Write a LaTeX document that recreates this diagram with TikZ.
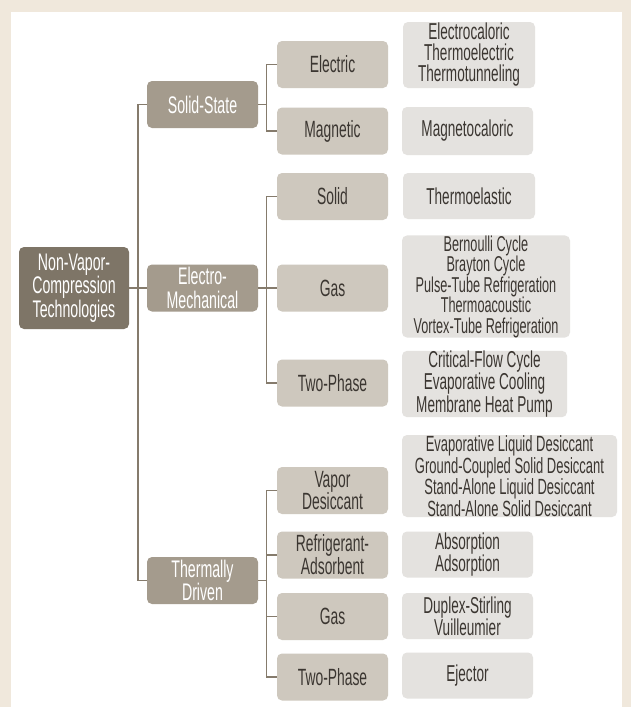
\documentclass[tikz,border=0pt]{standalone}
\usepackage{fontspec}
\setmainfont{Liberation Sans}[FakeStretch=0.59]
\definecolor{bgcol}{HTML}{F0E8DC}
\definecolor{rootcol}{HTML}{7E7567}
\definecolor{maincol}{HTML}{A49B8D}
\definecolor{subcol}{HTML}{CEC8BE}
\definecolor{listcol}{HTML}{E4E2DF}
\definecolor{linecol}{HTML}{857B6C}
\definecolor{txtcol}{HTML}{3B3631}

\begin{document}
\begin{tikzpicture}[x=1pt,y=-1pt,
	box/.style={rounded corners=5pt,inner sep=0,outer sep=0,minimum width=111pt,minimum height=47pt,align=center,font=\fontsize{24}{23.5}\selectfont},
	rootbox/.style={box,fill=rootcol,text=white,minimum width=110pt,minimum height=82pt},
	mainbox/.style={box,fill=maincol,text=white},
	subbox/.style={box,fill=subcol,text=txtcol,font=\fontsize{23.5}{21}\selectfont},
	listbox/.style={box,fill=listcol,text=txtcol,anchor=west,font=\fontsize{23}{21}\selectfont},
	link/.style={draw=linecol,line width=1.6pt}]
	\useasboundingbox[fill=bgcol] (0,0) rectangle (631,707);
	\fill[white] (11,12) rectangle (622,707);
	\node[rootbox] (0) at (74,288) {Non-Vapor-\\Compression\\Technologies};
	\node[mainbox] (1) at (202.5,104.5) {Solid-State};
	\node[mainbox] (2) at (202.5,288) {Electro-\\Mechanical};
	\node[mainbox] (3) at (202.5,580.5) {Thermally\\Driven};
	\node[subbox] (11) at (332.5,64.5) {Electric};
	\node[subbox] (12) at (332.5,131) {Magnetic};
	\node[subbox] (21) at (332.5,196.5) {Solid};
	\node[subbox] (22) at (332.5,288) {Gas};
	\node[subbox] (23) at (332.5,383) {Two-Phase};
	\node[subbox] (31) at (332.5,490.5) {Vapor\\Desiccant};
	\node[subbox] (32) at (332.5,555) {Refrigerant-\\Adsorbent};
	\node[subbox] (33) at (332.5,616.5) {Gas};
	\node[subbox] (34) at (332.5,677) {Two-Phase};
	\node[listbox,minimum width=132pt,minimum height=66pt] (111) at (403,55) {Electrocaloric\\Thermoelectric\\Thermotunneling};
	\node[listbox,minimum width=131pt,minimum height=48pt] (121) at (402,131) {Magnetocaloric};
	\node[listbox,minimum width=132pt,minimum height=46pt] (211) at (403,196) {Thermoelastic};
	\node[listbox,minimum width=168pt,minimum height=98pt,font=\fontsize{21.5}{20.5}\selectfont] (221) at (402,286.5) {Bernoulli Cycle\\Brayton Cycle\\Pulse-Tube Refrigeration\\Thermoacoustic\\Vortex-Tube Refrigeration};
	\node[listbox,minimum width=165pt,minimum height=66pt] (231) at (402,384) {Critical-Flow Cycle\\Evaporative Cooling\\Membrane Heat Pump};
	\node[listbox,minimum width=215pt,minimum height=82pt,font=\fontsize{22}{17.8}\selectfont] (311) at (402,476) {Evaporative Liquid Desiccant\\Ground-Coupled Solid Desiccant\\Stand-Alone Liquid Desiccant\\Stand-Alone Solid Desiccant};
	\node[listbox,minimum width=131pt,minimum height=46pt] (321) at (402,554.5) {Absorption\\Adsorption};
	\node[listbox,minimum width=131pt,minimum height=46pt] (331) at (402,616) {Duplex-Stirling\\Vuilleumier};
	\node[listbox,minimum width=131pt,minimum height=46pt] (341) at (402,675.5) {Ejector};
	\draw[link] (1.west) -- ++(-9,0) |- (3.west);
	\draw[link] (0.east) -- (2.west);
	\draw[link] (1.east) -- ++(8.5,0);
	\draw[link] (11.west) -- ++(-10.5,0) |- (12.west);
	\draw[link] (2.east) -- (22.west);
	\draw[link] (21.west) -- ++(-10.5,0) |- (23.west);
	\draw[link] (3.east) -- ++(8.5,0);
	\draw[link] (31.west) -- ++(-10.5,0) |- (34.west);
	\draw[link] (32.west) -- ++(-10.5,0);
	\draw[link] (33.west) -- ++(-10.5,0);
\end{tikzpicture}
\end{document}
